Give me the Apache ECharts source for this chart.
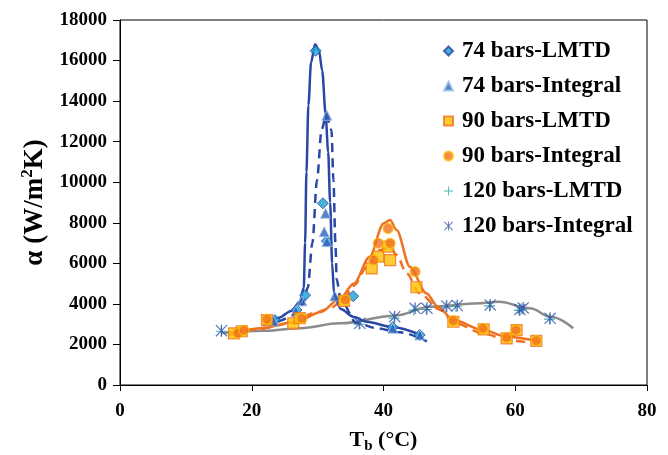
<!DOCTYPE html>
<html>
<head>
<meta charset="utf-8">
<script src="https://cdn.jsdelivr.net/npm/echarts@6/dist/echarts.min.js"></script>
<style>html,body{margin:0;padding:0;background:#fff}#c{width:668px;height:455px}</style>
</head>
<body>
<div id="c"></div>
<script>
// ---- data ----
const xTicks = [0, 20, 40, 60, 80];
const yTicks = [0, 2000, 4000, 6000, 8000, 10000, 12000, 14000, 16000, 18000];

const lmtd74 = [[23.5,3200],[26.8,3700],[28.1,4430],[29.7,16480],[30.8,8960],[31.4,7100],[35.4,4380],[41.4,2850],[45.5,2470]];
const integral74 = [[23.3,3150],[26.7,3650],[27.6,4150],[31.4,13300],[31.2,8470],[31.0,7560],[31.4,7070],[32.6,4390],[41.4,2800],[45.5,2470]];
const lmtd90 = [[17.3,2550],[18.5,2650],[22.3,3200],[26.3,3040],[27.3,3300],[34.0,4150],[38.2,5750],[39.2,6330],[40.7,6820],[41.0,6160],[45.0,4820],[50.6,3120],[55.2,2740],[58.7,2300],[60.2,2710],[63.2,2180]];
const integral90 = [[17.9,2560],[18.8,2700],[22.3,3250],[27.6,3280],[34.2,4200],[38.5,6160],[39.2,6990],[40.7,7720],[41.0,6990],[44.8,5590],[50.6,3170],[55.1,2790],[58.7,2350],[60.1,2710],[63.2,2190]];
const lmtd120 = [[15.4,2650],[36.3,3000],[41.6,3300],[44.6,3700],[46.5,3720],[49.5,3850],[51.0,3870],[56.1,3900],[60.6,3680],[61.0,3750],[65.2,3250]];
const integral120 = [[15.4,2680],[36.4,3040],[41.7,3370],[44.8,3780],[46.6,3780],[49.6,3900],[51.2,3920],[56.2,3950],[60.7,3720],[61.2,3800],[65.3,3290]];

const fit74L = [[22.0,3100],[24,3300],[26,3650],[27.3,4100],[27.9,4800],[28.1,7000],[28.3,10500],[28.6,13800],[29.0,15900],[29.6,16800],[30.2,16500],[30.7,15500],[31.2,13400],[31.6,11500],[31.9,9000],[32.2,6000],[32.5,4500],[33.5,3750],[35.5,3350],[37.4,3120],[41.5,2850],[45.8,2450]];
const fit74I = [[21.7,2960],[24,3150],[26.6,3450],[27.8,4000],[28.5,4800],[29.2,7000],[29.9,10100],[30.6,12570],[31.3,13350],[32.1,12570],[32.4,10100],[32.7,7000],[32.9,5200],[33.5,4200],[35.9,3050],[39,2800],[42.5,2600],[46.6,2150]];
const fit90I = [[16.5,2450],[21.3,2800],[26.8,3120],[30.5,3600],[33.4,4270],[35.5,5000],[37.9,6330],[40.0,7970],[41.0,8140],[42.0,7640],[44.0,5830],[46.5,4520],[48.3,3850],[50.6,3200],[55.1,2710],[58.7,2380],[63.8,2140]];
const fit90L = [[17,2500],[21,2750],[26,3050],[29.3,3530],[31.9,3780],[33.9,4190],[35.5,4900],[37.5,5830],[39.5,6660],[41.0,6820],[42.0,6410],[43.5,5510],[45.5,4520],[48.6,3700],[50.8,3050],[55.2,2540],[58.7,2220],[62.7,2050]];
const fit120 = [[15.5,2560],[22,2680],[27.3,2800],[33.4,3040],[41.7,3420],[47.1,3860],[54.6,4030],[57.5,4110],[62.2,3780],[65.5,3350],[68.8,2800]];

const names = ['74 bars-LMTD','74 bars-Integral','90 bars-LMTD','90 bars-Integral','120 bars-LMTD','120 bars-Integral'];

const FONT = 'Liberation Serif, Times New Roman, serif';
const BLUE = '#2b47a5';
const ORANGE = '#f07020';
const GRAY = '#8c8c8c';

const asterisk = 'path://M9,0L11,0L11,20L9,20Z M1.4,0L20,18.6L18.6,20L0,1.4Z M20,1.4L1.4,20L0,18.6L18.6,0Z';
const plus = 'path://M9,0L11,0L11,20L9,20Z M0,9L20,9L20,11L0,11Z';

function fitLine(data, color, dashed, smooth) {
  return {
    type: 'line', data: data, showSymbol: false, symbol: 'none', smooth: smooth, smoothMonotone: 'x',
    lineStyle: {color: color, width: 2.5, type: dashed ? [9, 6] : 'solid'},
    silent: true, z: 1, legendHoverLink: false
  };
}

const chart = echarts.init(document.getElementById('c'), null, {renderer: 'canvas'});
chart.setOption({
  animation: false,
  backgroundColor: '#fff',
  grid: {left: 120, right: 21, top: 20, bottom: 70, show: true, borderColor: '#000', borderWidth: 1,
    backgroundColor: 'transparent', containLabel: false, outerBoundsMode: 'none'},
  xAxis: {
    type: 'value', min: xTicks[0], max: xTicks[xTicks.length-1], interval: 20,
    axisLine: {lineStyle: {color: '#000', width: 1}},
    axisTick: {show: true, inside: false, length: 6, lineStyle: {color: '#000'}},
    splitLine: {show: false},
    axisLabel: {color: '#000', fontFamily: FONT, fontWeight: 'bold', fontSize: 19, margin: 17},
    name: 'T{sub|b} (°C)', nameLocation: 'middle', nameGap: 42,
    nameTextStyle: {color: '#000', fontFamily: FONT, fontWeight: 'bold', fontSize: 22,
      rich: {sub: {fontFamily: FONT, fontWeight: 'bold', fontSize: 15, padding: [12, 0, 0, 0], color: '#000'}}}
  },
  yAxis: {
    type: 'value', min: yTicks[0], max: yTicks[yTicks.length-1], interval: 2000,
    axisLine: {show: true, lineStyle: {color: '#000', width: 1}},
    axisTick: {show: true, inside: false, length: 7, lineStyle: {color: '#000'}},
    splitLine: {show: false},
    axisLabel: {color: '#000', fontFamily: FONT, fontWeight: 'bold', fontSize: 19, margin: 13,
      formatter: function (v) { return String(v); }},
    name: 'α (W/m{sup|2}K)', nameLocation: 'middle', nameGap: 60, nameRotate: 90,
    nameTextStyle: {color: '#000', fontFamily: FONT, fontWeight: 'bold', fontSize: 27,
      rich: {sup: {fontFamily: FONT, fontWeight: 'bold', fontSize: 17, padding: [0, 0, 14, 0], color: '#000'}}}
  },
  legend: {
    data: names, orient: 'vertical', left: 443, top: 39, padding: 0,
    itemWidth: 9, itemHeight: 9, itemGap: 11,
    textStyle: {color: '#000', fontFamily: FONT, fontWeight: 'bold', fontSize: 23, lineHeight: 24, padding: [0, 0, 0, 4]},
    selectedMode: false
  },
  series: [
    fitLine(fit120, GRAY, false, 0.4),
    fitLine(fit90L, ORANGE, true, 0.3),
    fitLine(fit90I, ORANGE, false, 0.3),
    fitLine(fit74I, BLUE, true, 0.3),
    fitLine(fit74L, BLUE, false, 0.3),
    {name: names[0], type: 'scatter', data: lmtd74, symbol: 'diamond', symbolSize: 11, z: 3,
     itemStyle: {color: '#1ca0d0', borderColor: BLUE, borderWidth: 1}},
    {name: names[1], type: 'scatter', data: integral74, symbol: 'triangle', symbolSize: 10, z: 3,
     itemStyle: {color: '#2f5fb8', borderColor: '#9dc3e6', borderWidth: 1}},
    {name: names[2], type: 'scatter', data: lmtd90, symbol: 'rect', symbolSize: 11, z: 3,
     itemStyle: {color: '#ffc000', borderColor: ORANGE, borderWidth: 1.2}},
    {name: names[3], type: 'scatter', data: integral90, symbol: 'circle', symbolSize: 10, z: 4,
     itemStyle: {color: ORANGE, borderColor: '#ffc000', borderWidth: 1.2}},
    {name: names[4], type: 'scatter', data: lmtd120, symbol: plus, symbolSize: 11, z: 3,
     itemStyle: {color: '#1ea0a6', borderWidth: 0}},
    {name: names[5], type: 'scatter', data: integral120, symbol: asterisk, symbolSize: 12, z: 3,
     itemStyle: {color: '#3050a8', borderWidth: 0}}
  ]
});
</script>
</body>
</html>
